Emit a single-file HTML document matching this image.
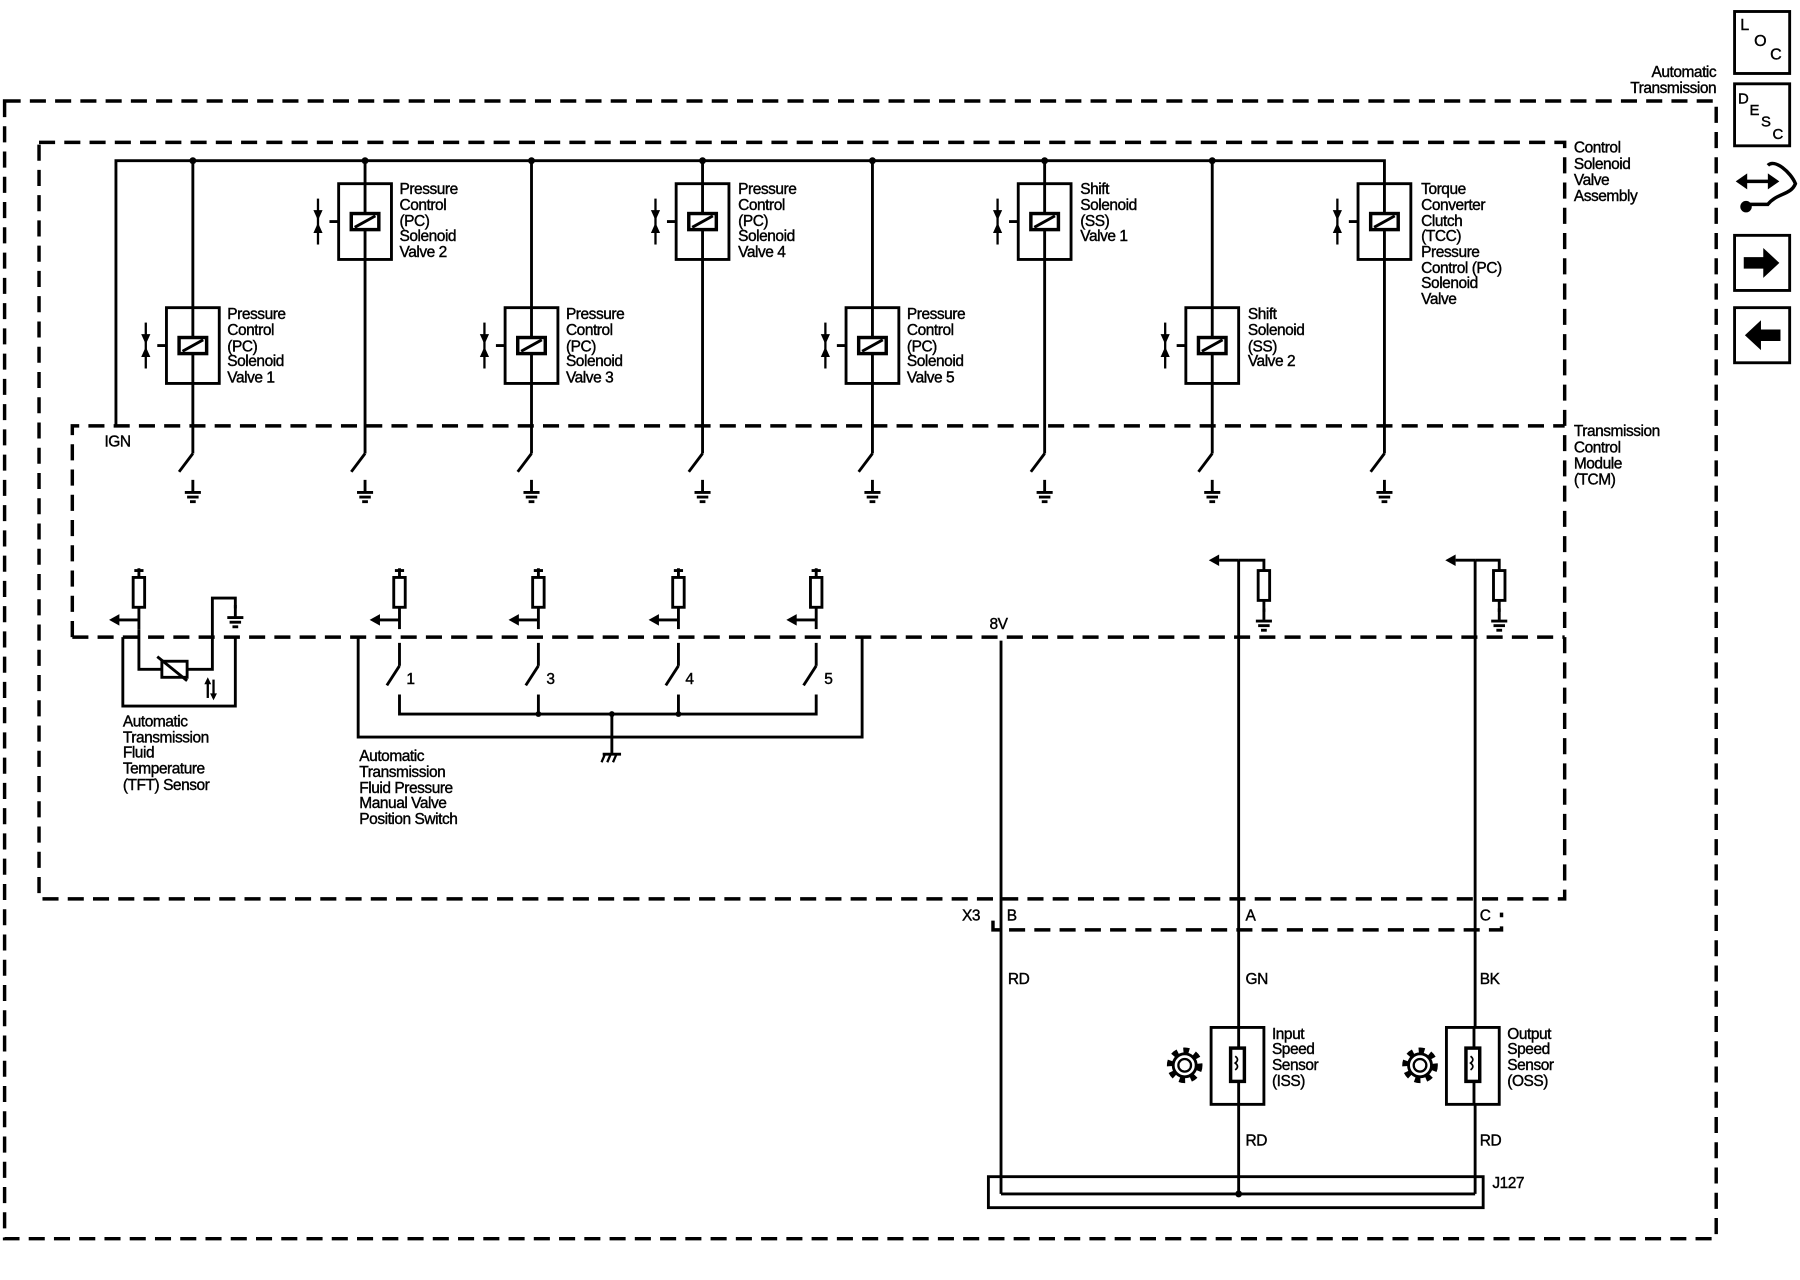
<!DOCTYPE html>
<html><head><style>
html,body{margin:0;padding:0;background:#fff;}
svg{display:block}
text{font-family:"Liberation Sans",sans-serif;font-size:13.5px;fill:#000;stroke:#000;stroke-width:0.35px;letter-spacing:-0.4px}
</style></head><body>
<svg width="1800" height="1280" viewBox="0 0 1568 1115" xmlns="http://www.w3.org/2000/svg">
<defs>
<g id="valve" fill="none" stroke="#000">
 <rect x="-23" y="-33" width="46" height="66" stroke-width="2.5" fill="#fff"/>
 <line x1="0" y1="-33" x2="0" y2="33" stroke-width="2.5"/>
 <rect x="-12" y="-7" width="24" height="14" stroke-width="3" fill="#fff"/>
 <line x1="-9" y1="5" x2="9" y2="-5" stroke-width="2.5"/>
 <line x1="-23" y1="0" x2="-31" y2="0" stroke-width="2.5"/>
 <line x1="-41" y1="-20" x2="-41" y2="20" stroke-width="2"/>
 <path d="M-45,-10 L-37,-10 L-41,-1 Z M-45,10 L-37,10 L-41,1 Z" fill="#000" stroke="none"/>
</g>
<g id="gnd" stroke="#000" stroke-width="2.5">
 <line x1="0" y1="0" x2="0" y2="10"/>
 <line x1="-7" y1="11" x2="7" y2="11"/>
 <line x1="-5" y1="15" x2="5" y2="15"/>
 <line x1="-2.5" y1="19" x2="2.5" y2="19"/>
</g>
<g id="sw" stroke="#000" stroke-width="2.5" fill="none">
 <line x1="0" y1="0" x2="0" y2="20"/>
 <line x1="0" y1="20" x2="-11" y2="37"/>
</g>
<g id="res" stroke="#000" fill="none">
 <line x1="0" y1="-8" x2="0" y2="0" stroke-width="2.5"/>
 <line x1="-4" y1="-6" x2="4" y2="-6" stroke-width="2.5"/>
 <rect x="-5" y="0" width="10" height="26" stroke-width="2.5" fill="#fff"/>
 <line x1="0" y1="26" x2="0" y2="45" stroke-width="2.5"/>
 <line x1="0" y1="37" x2="-18" y2="37" stroke-width="2.5"/>
 <path d="M-26,37 L-17,32 L-17,42 Z" fill="#000" stroke="none"/>
</g>
<g id="gear" fill="none" stroke="#000">
 <circle r="13" stroke-width="5" stroke-dasharray="5 5"/>
 <circle r="10" stroke-width="2.5"/>
 <circle r="5.5" stroke-width="2"/>
</g>
</defs>

<g fill="none" stroke="#000" stroke-width="3" stroke-dasharray="14 8">
 <rect x="4" y="88" width="1491" height="991"/>
 <rect x="34" y="124" width="1329" height="659"/>
 <polyline points="63,555 63,371 1363,371"/>
 <line x1="63" y1="555" x2="1363" y2="555"/>
 <polyline points="865,802 865,810 1308,810 1308,795"/>
</g>

<g stroke="#000" stroke-width="2.5" fill="none">
 <polyline points="101,371 101,140 1206,140 1206,395"/>
 <line x1="168" y1="140" x2="168" y2="395"/>
 <line x1="318" y1="140" x2="318" y2="395"/>
 <line x1="463" y1="140" x2="463" y2="395"/>
 <line x1="612" y1="140" x2="612" y2="395"/>
 <line x1="760" y1="140" x2="760" y2="395"/>
 <line x1="910" y1="140" x2="910" y2="395"/>
 <line x1="1056" y1="140" x2="1056" y2="395"/>
</g>
<g fill="#000">
 <circle cx="168" cy="140" r="3"/><circle cx="318" cy="140" r="3"/><circle cx="463" cy="140" r="3"/>
 <circle cx="612" cy="140" r="3"/><circle cx="760" cy="140" r="3"/><circle cx="910" cy="140" r="3"/><circle cx="1056" cy="140" r="3"/>
</g>
<use href="#valve" x="168" y="301"/>
<use href="#valve" x="318" y="193"/>
<use href="#valve" x="463" y="301"/>
<use href="#valve" x="612" y="193"/>
<use href="#valve" x="760" y="301"/>
<use href="#valve" x="910" y="193"/>
<use href="#valve" x="1056" y="301"/>
<use href="#valve" x="1206" y="193"/>
<g stroke="#000" stroke-width="2.5">
 <line x1="168" y1="395" x2="156" y2="411"/><line x1="318" y1="395" x2="306" y2="411"/>
 <line x1="463" y1="395" x2="451" y2="411"/><line x1="612" y1="395" x2="600" y2="411"/>
 <line x1="760" y1="395" x2="748" y2="411"/><line x1="910" y1="395" x2="898" y2="411"/>
 <line x1="1056" y1="395" x2="1044" y2="411"/><line x1="1206" y1="395" x2="1194" y2="411"/>
</g>
<use href="#gnd" x="168" y="418"/><use href="#gnd" x="318" y="418"/><use href="#gnd" x="463" y="418"/>
<use href="#gnd" x="612" y="418"/><use href="#gnd" x="760" y="418"/><use href="#gnd" x="910" y="418"/>
<use href="#gnd" x="1056" y="418"/><use href="#gnd" x="1206" y="418"/>

<text x="198" y="278">Pressure</text><text x="198" y="292">Control</text><text x="198" y="306">(PC)</text><text x="198" y="319">Solenoid</text><text x="198" y="333">Valve 1</text>
<text x="348" y="169">Pressure</text><text x="348" y="183">Control</text><text x="348" y="197">(PC)</text><text x="348" y="210">Solenoid</text><text x="348" y="224">Valve 2</text>
<text x="493" y="278">Pressure</text><text x="493" y="292">Control</text><text x="493" y="306">(PC)</text><text x="493" y="319">Solenoid</text><text x="493" y="333">Valve 3</text>
<text x="643" y="169">Pressure</text><text x="643" y="183">Control</text><text x="643" y="197">(PC)</text><text x="643" y="210">Solenoid</text><text x="643" y="224">Valve 4</text>
<text x="790" y="278">Pressure</text><text x="790" y="292">Control</text><text x="790" y="306">(PC)</text><text x="790" y="319">Solenoid</text><text x="790" y="333">Valve 5</text>
<text x="941" y="169">Shift</text><text x="941" y="183">Solenoid</text><text x="941" y="197">(SS)</text><text x="941" y="210">Valve 1</text>
<text x="1087" y="278">Shift</text><text x="1087" y="292">Solenoid</text><text x="1087" y="306">(SS)</text><text x="1087" y="319">Valve 2</text>
<text x="1238" y="169">Torque</text><text x="1238" y="183">Converter</text><text x="1238" y="197">Clutch</text><text x="1238" y="210">(TCC)</text><text x="1238" y="224">Pressure</text><text x="1238" y="238">Control (PC)</text><text x="1238" y="251">Solenoid</text><text x="1238" y="265">Valve</text>
<text x="91" y="389">IGN</text>

<use href="#res" x="121" y="503"/>
<g stroke="#000" stroke-width="2.5" fill="none">
 <polyline points="107,555 107,615 205,615 205,555"/>
 <polyline points="121,548 121,583 141,583"/>
 <rect x="141" y="576" width="22" height="14" fill="#fff"/>
 <line x1="137" y1="572" x2="163" y2="593"/>
 <polyline points="163,583 185,583 185,521 205,521 205,530"/>
 <line x1="181" y1="592" x2="181" y2="608" stroke-width="2"/>
 <line x1="186" y1="592" x2="186" y2="608" stroke-width="2"/>
</g>
<use href="#gnd" x="205" y="527"/>
<path d="M178,596 L181,590 L184,596 Z M183,604 L186,610 L189,604 Z" fill="#000"/>
<text x="107" y="633">Automatic</text><text x="107" y="647">Transmission</text><text x="107" y="660">Fluid</text><text x="107" y="674">Temperature</text><text x="107" y="688">(TFT) Sensor</text>

<use href="#res" x="348" y="503"/><use href="#res" x="469" y="503"/><use href="#res" x="591" y="503"/><use href="#res" x="711" y="503"/>
<use href="#sw" x="348" y="560"/><use href="#sw" x="469" y="560"/><use href="#sw" x="591" y="560"/><use href="#sw" x="711" y="560"/>
<g stroke="#000" stroke-width="2.5" fill="none">
 <polyline points="348,605 348,622 711,622 711,605"/>
 <line x1="469" y1="605" x2="469" y2="622"/><line x1="591" y1="605" x2="591" y2="622"/>
 <polyline points="312,555 312,642 751,642 751,555"/>
 <line x1="533" y1="622" x2="533" y2="656"/>
 <line x1="525" y1="657" x2="541" y2="657"/>
 <line x1="527" y1="657" x2="524" y2="664" stroke-width="2"/><line x1="532" y1="657" x2="529" y2="664" stroke-width="2"/><line x1="537" y1="657" x2="534" y2="664" stroke-width="2"/>
</g>
<g fill="#000"><circle cx="469" cy="622" r="2.5"/><circle cx="591" cy="622" r="2.5"/><circle cx="533" cy="622" r="2.5"/></g>
<text x="354" y="596">1</text><text x="476" y="596">3</text><text x="597" y="596">4</text><text x="718" y="596">5</text>
<text x="313" y="663">Automatic</text><text x="313" y="677">Transmission</text><text x="313" y="691">Fluid Pressure</text><text x="313" y="704">Manual Valve</text><text x="313" y="718">Position Switch</text>

<g stroke="#000" stroke-width="2.5" fill="none">
 <line x1="872" y1="558" x2="872" y2="1040"/>
 <polyline points="1079,488 1079,1040"/>
 <line x1="1079" y1="488" x2="1062" y2="488"/>
 <polyline points="1079,488 1101,488 1101,497"/>
 <rect x="1096" y="497" width="10" height="26" fill="#fff"/>
 <line x1="1101" y1="523" x2="1101" y2="533"/>
 <line x1="1285" y1="488" x2="1285" y2="1040"/>
 <line x1="1285" y1="488" x2="1268" y2="488"/>
 <polyline points="1285,488 1306,488 1306,497"/>
 <rect x="1301" y="497" width="10" height="26" fill="#fff"/>
 <line x1="1306" y1="523" x2="1306" y2="533"/>
 <line x1="872" y1="1040" x2="1285" y2="1040"/>
 <rect x="861" y="1025" width="431" height="27"/>
 <rect x="1055" y="895" width="46" height="67" fill="#fff"/>
 <line x1="1079" y1="895" x2="1079" y2="962"/>
 <rect x="1072" y="913" width="12" height="29" stroke-width="3" fill="#fff"/>
 <path d="M1076,920 q4,3 0,6 q4,3 0,6" stroke-width="1.5"/>
 <rect x="1260" y="895" width="46" height="67" fill="#fff"/>
 <line x1="1284" y1="895" x2="1284" y2="962"/>
 <rect x="1277" y="913" width="12" height="29" stroke-width="3" fill="#fff"/>
 <path d="M1281,920 q4,3 0,6 q4,3 0,6" stroke-width="1.5"/>
</g>
<path d="M1053,488 L1062,483 L1062,493 Z M1259,488 L1268,483 L1268,493 Z" fill="#000"/>
<use href="#gnd" x="1101" y="530"/><use href="#gnd" x="1306" y="530"/>
<circle cx="1079" cy="1040" r="3" fill="#000"/>
<use href="#gear" x="1032" y="928"/><use href="#gear" x="1237" y="928"/>
<text x="862" y="548">8V</text>
<text x="838" y="802">X3</text><text x="877" y="802">B</text><text x="1085" y="802">A</text><text x="1289" y="802">C</text>
<text x="878" y="857">RD</text><text x="1085" y="857">GN</text><text x="1289" y="857">BK</text>
<text x="1108" y="905">Input</text><text x="1108" y="918">Speed</text><text x="1108" y="932">Sensor</text><text x="1108" y="946">(ISS)</text>
<text x="1313" y="905">Output</text><text x="1313" y="918">Speed</text><text x="1313" y="932">Sensor</text><text x="1313" y="946">(OSS)</text>
<text x="1085" y="998">RD</text><text x="1289" y="998">RD</text>
<text x="1300" y="1035">J127</text>

<text x="1495" y="67" text-anchor="end">Automatic</text><text x="1495" y="81" text-anchor="end">Transmission</text>
<text x="1371" y="133">Control</text><text x="1371" y="147">Solenoid</text><text x="1371" y="161">Valve</text><text x="1371" y="175">Assembly</text>
<text x="1371" y="380">Transmission</text><text x="1371" y="394">Control</text><text x="1371" y="408">Module</text><text x="1371" y="422">(TCM)</text>

<g stroke="#000" stroke-width="2.5" fill="none">
 <rect x="1511" y="10" width="48" height="54"/>
 <rect x="1511" y="73" width="48" height="54"/>
 <rect x="1511" y="205" width="48" height="48"/>
 <rect x="1511" y="268" width="48" height="48"/>
 <path d="M1516,158 L1546,158 M1540,144 C1546,138 1560,150 1564,160 C1560,170 1548,168 1540,178 L1522,178" stroke-width="3"/>
</g>
<path d="M1512,158 L1522,151 L1522,165 Z M1550,158 L1540,151 L1540,165 Z" fill="#000"/>
<circle cx="1521" cy="180" r="5" fill="#000"/>
<path d="M1519,224 L1536,224 L1536,216 L1550,229 L1536,242 L1536,234 L1519,234 Z" fill="#000"/>
<path d="M1551,287 L1534,287 L1534,279 L1520,292 L1534,305 L1534,297 L1551,297 Z" fill="#000"/>
<text x="1516" y="26" style="font-size:14px">L</text><text x="1528" y="40" style="font-size:14px">O</text><text x="1542" y="52" style="font-size:14px">C</text>
<text x="1514" y="90" style="font-size:13px">D</text><text x="1524" y="100" style="font-size:13px">E</text><text x="1534" y="110" style="font-size:13px">S</text><text x="1544" y="121" style="font-size:13px">C</text>
</svg>
</body></html>
